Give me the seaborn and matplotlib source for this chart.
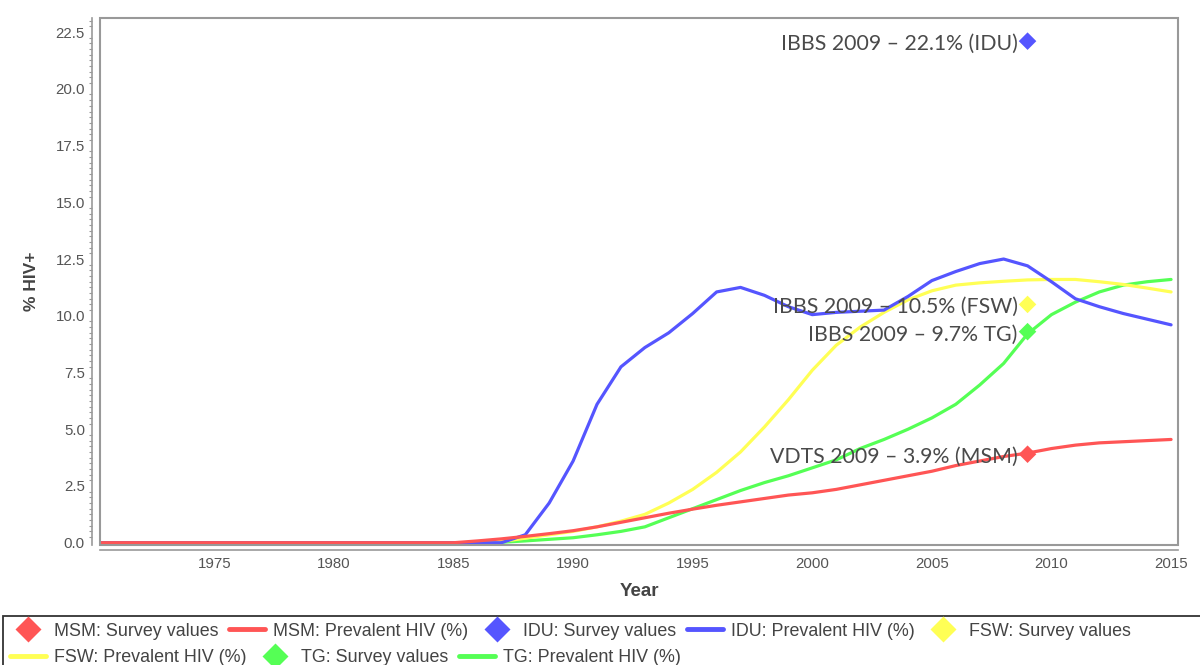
import pandas as pd
import matplotlib
matplotlib.use('Agg')
import matplotlib.pyplot as plt
from matplotlib.lines import Line2D
from matplotlib.patches import Rectangle
from matplotlib.ticker import MultipleLocator
import seaborn as sns

# Years of the model run
years = list(range(1970, 2016))

# Prevalent HIV (%) per group (1970-2015)
msm_prev = [0, 0, 0, 0, 0, 0, 0, 0, 0, 0,
            0, 0, 0, 0, 0, 0.0, 0.08, 0.17, 0.28, 0.40,
            0.53, 0.70, 0.90, 1.10, 1.30, 1.48, 1.65, 1.80, 1.95, 2.10,
            2.20, 2.35, 2.55, 2.75, 2.95, 3.15, 3.40, 3.60, 3.80, 3.95,
            4.15, 4.30, 4.40, 4.45, 4.50, 4.55]
idu_prev = [0, 0, 0, 0, 0, 0, 0, 0, 0, 0,
            0, 0, 0, 0, 0, 0, 0, 0.0, 0.35, 1.75,
            3.60, 6.10, 7.75, 8.60, 9.25, 10.10, 11.05, 11.25, 10.90, 10.40,
            10.05, 10.15, 10.20, 10.25, 10.85, 11.55, 11.95, 12.30, 12.50, 12.20,
            11.50, 10.75, 10.40, 10.10, 9.85, 9.60]
fsw_prev = [0, 0, 0, 0, 0, 0, 0, 0, 0, 0,
            0, 0, 0, 0, 0, 0, 0, 0.05, 0.20, 0.35,
            0.50, 0.70, 0.95, 1.25, 1.75, 2.35, 3.10, 4.00, 5.10, 6.30,
            7.60, 8.70, 9.50, 10.15, 10.70, 11.10, 11.35, 11.45, 11.52, 11.58,
            11.60, 11.60, 11.50, 11.38, 11.22, 11.05]
tg_prev = [0, 0, 0, 0, 0, 0, 0, 0, 0, 0,
           0, 0, 0, 0, 0, 0, 0, 0.02, 0.08, 0.15,
           0.22, 0.35, 0.50, 0.70, 1.10, 1.50, 1.90, 2.30, 2.65, 2.95,
           3.30, 3.65, 4.15, 4.55, 5.00, 5.50, 6.10, 6.95, 7.90, 9.20,
           10.05, 10.60, 11.05, 11.35, 11.50, 11.60]

# Survey points (2009)
survey_groups = ['MSM', 'IDU', 'FSW', 'TG']
survey_years = [2009, 2009, 2009, 2009]
survey_values = [3.9, 22.1, 10.5, 9.3]
survey_labels = ['VDTS 2009 \u2013 3.9% (MSM)', 'IBBS 2009 \u2013 22.1% (IDU)',
                 'IBBS 2009 \u2013 10.5% (FSW)', 'IBBS 2009 \u2013 9.7% TG)']

colors = {'MSM': '#FF5555', 'IDU': '#5555FF', 'FSW': '#FFFF55', 'TG': '#55FF55'}

# Long tables for seaborn
lines = pd.concat([
    pd.DataFrame({'Year': years, 'HIV': vals, 'group': g})
    for g, vals in [('MSM', msm_prev), ('IDU', idu_prev), ('FSW', fsw_prev), ('TG', tg_prev)]
])
points = pd.DataFrame({'Year': survey_years, 'HIV': survey_values, 'group': survey_groups})

sns.set_style('white')
plt.rcParams['font.family'] = ['Liberation Sans', 'DejaVu Sans']

fig = plt.figure(figsize=(12, 6.65), dpi=100)
ax = fig.add_axes([100 / 1200, 1 - 545 / 665, 1078 / 1200, 527 / 665])

sns.lineplot(data=lines, x='Year', y='HIV', hue='group', hue_order=['TG', 'FSW', 'IDU', 'MSM'],
             palette=colors, linewidth=2.3, legend=False, ax=ax)
sns.scatterplot(data=points, x='Year', y='HIV', hue='group', palette=colors, marker='D',
                s=80, linewidth=0, legend=False, ax=ax, zorder=5)

# annotations next to the survey markers
for g, x, y, lab in zip(survey_groups, survey_years, survey_values, survey_labels):
    ax.annotate(lab, xy=(x, y), xytext=(-7, -2), textcoords='offset points',
                ha='right', va='center', fontsize=15.3, color='#4a4a4a', family=['Lato', 'DejaVu Sans'])

ax.set_xlim(1970.22, 2015.29)
ax.set_ylim(-0.1, 23.12)
ax.set_xticks(range(1975, 2016, 5))
ax.yaxis.set_major_locator(MultipleLocator(2.5))
ax.yaxis.set_minor_locator(MultipleLocator(0.25))
ax.yaxis.set_major_formatter(matplotlib.ticker.FormatStrFormatter('%.1f'))
ax.set_xlabel('Year', fontsize=13.5, fontweight='bold', color='#444444', labelpad=9)
ax.set_ylabel('% HIV+', fontsize=12.5, fontweight='bold', color='#444444', labelpad=12)

# Java-style frame with offset axes
for s in ['top', 'right']:
    ax.spines[s].set_visible(False)
ax.spines['left'].set_position(('outward', 5.8))
ax.spines['bottom'].set_position(('outward', 3.4))
for s in ['left', 'bottom']:
    ax.spines[s].set_color('#999999')
    ax.spines[s].set_linewidth(1.2)
ax.add_patch(Rectangle((0, 0), 1, 1, transform=ax.transAxes, fill=False,
                       edgecolor='#999999', lw=1.5, clip_on=False, zorder=6))
ax.tick_params(axis='both', which='major', direction='out', length=3, width=1,
               color='#999999', labelsize=10.8, labelcolor='#555555', pad=2)
ax.tick_params(axis='y', which='minor', direction='out', length=2, width=0.8,
               color='#999999', left=True)
ax.grid(False)

# legend in two flowing rows with a box underneath
def diamond(g):
    return Line2D([], [], marker='D', color='none', markerfacecolor=colors[g],
                  markeredgecolor='none', markersize=13.5)

def seg(g):
    return Line2D([], [], color=colors[g], linewidth=3.5)

row1 = [(diamond('MSM'), 'MSM: Survey values'), (seg('MSM'), 'MSM: Prevalent HIV (%)'),
        (diamond('IDU'), 'IDU: Survey values'), (seg('IDU'), 'IDU: Prevalent HIV (%)'),
        (diamond('FSW'), 'FSW: Survey values')]
row2 = [(seg('FSW'), 'FSW: Prevalent HIV (%)'), (diamond('TG'), 'TG: Survey values'),
        (seg('TG'), 'TG: Prevalent HIV (%)')]

for row, ypix in [(row1, 631), (row2, 658)]:
    h, l = zip(*row)
    fig.legend(h, l, loc='center left', bbox_to_anchor=(10 / 1200, 1 - ypix / 665),
               ncol=len(row), frameon=False, fontsize=12.9, labelcolor='#444444',
               handlelength=2.0, handletextpad=0.45, columnspacing=0.6,
               borderpad=0, borderaxespad=0)

fig.patches.append(Rectangle((3 / 1200, -0.1), 1.2, 0.1 + 49.5 / 665, transform=fig.transFigure,
                             fill=False, edgecolor='#333333', lw=1.3))

fig.savefig('out.png', dpi=100)
